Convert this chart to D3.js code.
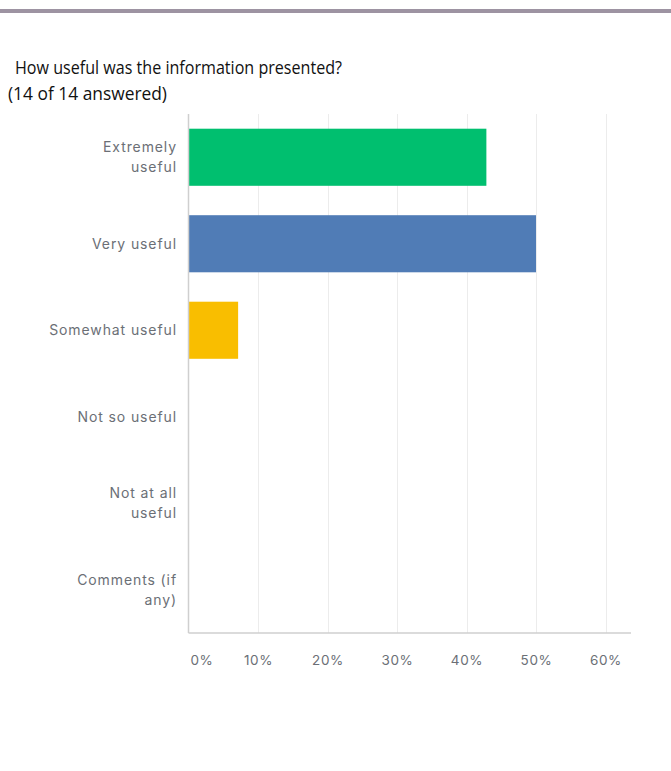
<!DOCTYPE html>
<html><head><meta charset="utf-8">
<script src="https://cdn.jsdelivr.net/npm/d3@7"></script>
<style>
html,body{margin:0;padding:0;background:#fff;}
svg{display:block;}
</style></head>
<body>
<script>
const categories = [["Extremely","useful"],["Very useful"],["Somewhat useful"],["Not so useful"],["Not at all","useful"],["Comments (if","any)"]];
const values = [42.86, 50, 7.14, 0, 0, 0];
const colors = ["#00bf6f","#507cb6","#f9be00","#6bc8cd","#ff8b4f","#7f7fff"];
const tickValues = [0,10,20,30,40,50,60];
const title = "How useful was the information presented?";
const subtitle = "(14 of 14 answered)";

const W = 671, H = 771;
const svg = d3.select("body").append("svg").attr("width", W).attr("height", H);

svg.append("rect").attr("x",0).attr("y",9).attr("width",W).attr("height",4).attr("fill","#9d93a2");

svg.append("text").attr("x",15).attr("y",74).text(title)
  .attr("font-family","'Open Sans', sans-serif").attr("font-size",19).attr("fill","#111")
  .attr("textLength",327).attr("lengthAdjust","spacingAndGlyphs");
svg.append("text").attr("x",8).attr("y",100).text(subtitle)
  .attr("font-family","'Open Sans', sans-serif").attr("font-size",19).attr("fill","#111")
  .attr("textLength",159).attr("lengthAdjust","spacingAndGlyphs");

const x0 = 188.5, plotTop = 114, plotBottom = 633;
const x = d3.scaleLinear().domain([0,60]).range([x0, 605.5]);
const y = d3.scaleBand().domain(d3.range(categories.length)).range([plotTop, plotBottom]).paddingInner(0.34).paddingOuter(0.17);

const g = svg.append("g");
g.selectAll("line.grid").data(tickValues.slice(1)).join("line")
  .attr("x1", d=>Math.round(x(d))+0.5).attr("x2", d=>Math.round(x(d))+0.5)
  .attr("y1", plotTop).attr("y2", plotBottom).attr("stroke","#ececec").attr("stroke-width",1);

g.selectAll("rect.bar").data(values).join("rect")
  .attr("x", x(0)).attr("y", (d,i)=>y(i)).attr("width", d=>x(d)-x(0)).attr("height", y.bandwidth())
  .attr("fill", (d,i)=>colors[i]);

g.append("line").attr("x1",x0).attr("x2",x0).attr("y1",plotTop).attr("y2",plotBottom).attr("stroke","#cfcfcf").attr("stroke-width",1.5);
g.append("line").attr("x1",x0).attr("x2",631).attr("y1",plotBottom).attr("y2",plotBottom).attr("stroke","#cfcfcf").attr("stroke-width",1.5);

const xAxis = d3.axisBottom(x).tickValues(tickValues).tickFormat(d=>d+"%").tickSize(0).tickPadding(0);
const ax = svg.append("g").attr("transform",`translate(0,${plotBottom+32})`).call(xAxis);
ax.select(".domain").remove();
ax.selectAll("text").attr("font-family","Inter, 'Noto Sans', sans-serif").attr("font-size",13.5)
  .attr("letter-spacing","0.6px").attr("fill","#6b6f76").attr("dy","0")
  .attr("dx", d => d === 0 ? 13 : 0);

const lab = svg.append("g");
categories.forEach((lines,i)=>{
  const cy = y(i) + y.bandwidth()/2;
  const lh = 20;
  const startY = cy - (lines.length-1)*lh/2 + 5;
  const t = lab.append("text").attr("text-anchor","end")
    .attr("font-family","Inter, 'Noto Sans', sans-serif").attr("font-size",14)
    .attr("letter-spacing","0.9px").attr("fill","#6b6f76");
  lines.forEach((l,j)=>{
    t.append("tspan").attr("x",177).attr("y",startY + j*lh).text(l);
  });
});
</script>
</body></html>
